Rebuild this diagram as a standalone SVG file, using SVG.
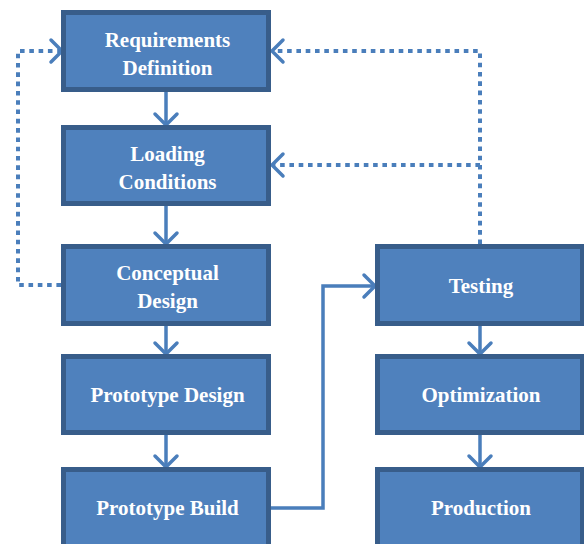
<svg xmlns="http://www.w3.org/2000/svg" width="584" height="544" viewBox="0 0 584 544">
<style>
.box{fill:#4F81BD;stroke:#385D8A;stroke-width:5}
.lbl{font-family:"Liberation Serif","Times New Roman",serif;font-weight:bold;font-size:21px;fill:#FFFFFF;text-anchor:middle}
.solid{fill:none;stroke:#4A7EBB;stroke-width:3.5}
.dot{fill:none;stroke:#4A7EBB;stroke-width:4;stroke-dasharray:4.6 4.7}
</style>
<defs>
<marker id="chev" viewBox="-16 -14 20 28" refX="0" refY="0" markerWidth="20" markerHeight="28" markerUnits="userSpaceOnUse" orient="auto" overflow="visible">
<path d="M-11,-11 L0,0 L-11,11" fill="none" stroke="#4A7EBB" stroke-width="3.5" stroke-linecap="round" stroke-linejoin="miter"/>
</marker>
</defs>
<rect width="584" height="544" fill="#FFFFFF"/>
<g id="connectors">
<path class="solid" d="M166,92 V125" marker-end="url(#chev)"/>
<path class="solid" d="M166,206 V244" marker-end="url(#chev)"/>
<path class="solid" d="M166,326 V354" marker-end="url(#chev)"/>
<path class="solid" d="M166,435 V467" marker-end="url(#chev)"/>
<path class="solid" d="M480,326 V354" marker-end="url(#chev)"/>
<path class="solid" d="M480,435 V467" marker-end="url(#chev)"/>
<path class="solid" d="M271,508 H323 V286 H375" marker-end="url(#chev)"/>
<path class="dot" d="M61,285 H18 V51 H62" marker-end="url(#chev)"/>
<path class="dot" d="M480,244 V51 H272" marker-end="url(#chev)"/>
<path class="dot" d="M480,165 H272" marker-end="url(#chev)"/>
</g>
<g id="requirements">
<rect class="box" x="63.5" y="12.5" width="205" height="77"/>
<text class="lbl" x="167.5" y="47">Requirements</text>
<text class="lbl" x="167.5" y="74.5">Definition</text>
</g>
<g id="loading">
<rect class="box" x="63.5" y="127.5" width="205" height="76"/>
<text class="lbl" x="167.5" y="161">Loading</text>
<text class="lbl" x="167.5" y="188.5">Conditions</text>
</g>
<g id="conceptual">
<rect class="box" x="63.5" y="246.5" width="205" height="77"/>
<text class="lbl" x="167.5" y="280">Conceptual</text>
<text class="lbl" x="167.5" y="307.5">Design</text>
</g>
<g id="prototype-design">
<rect class="box" x="63.5" y="356.5" width="205" height="76"/>
<text class="lbl" x="167.5" y="402">Prototype Design</text>
</g>
<g id="prototype-build">
<rect class="box" x="63.5" y="469.5" width="205" height="77"/>
<text class="lbl" x="167.5" y="515">Prototype Build</text>
</g>
<g id="testing">
<rect class="box" x="377.5" y="246.5" width="205" height="77"/>
<text class="lbl" x="481" y="293">Testing</text>
</g>
<g id="optimization">
<rect class="box" x="377.5" y="356.5" width="205" height="76"/>
<text class="lbl" x="481" y="402">Optimization</text>
</g>
<g id="production">
<rect class="box" x="377.5" y="469.5" width="205" height="77"/>
<text class="lbl" x="481" y="515">Production</text>
</g>
</svg>
